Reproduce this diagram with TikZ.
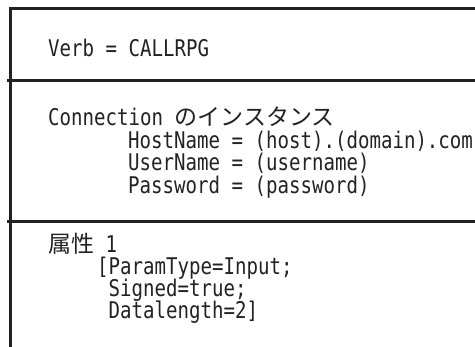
\documentclass[tikz,border=0pt]{standalone}
\usepackage{fontspec}
\newfontfamily\monof[FakeStretch=0.83]{DejaVu Sans Mono}
\newfontfamily\cjkf{Noto Sans CJK JP}
\definecolor{ink}{HTML}{222222}
\begin{document}
\begin{tikzpicture}[x=1pt,y=-1pt,
  frame/.style={draw=ink,line width=3pt},
  txt/.style={anchor=base west,inner sep=0pt,text=ink,font=\monof\fontsize{23}{23}\selectfont}]
\useasboundingbox (0,0) rectangle (475,347);
\clip (0,0) rectangle (475,347);
\fill[white] (0,0) rectangle (475,347);
\coordinate (bl) at (10,350);
\coordinate (tl) at (10,9);
\coordinate (tr) at (480,9);
\coordinate (s1l) at (7,81);
\coordinate (s1r) at (480,81);
\coordinate (s2l) at (7,222);
\coordinate (s2r) at (480,222);
\draw[frame] (bl) -- (tl) -- (tr);
\draw[frame] (s1l) -- (s1r);
\draw[frame] (s2l) -- (s2r);
\node[txt] (verb) at (48,57) {Verb = CALLRPG};
\node[txt] (conn) at (48,126) {Connection {\cjkf のインスタンス}};
\node[txt] (host) at (128,148.5) {HostName = (host).(domain).com};
\node[txt] (user) at (128,171) {UserName = (username)};
\node[txt] (pass) at (128,193.5) {Password = (password)};
\node[txt] (attr) at (48,253) {{\cjkf 属性} 1};
\node[txt] (ptype) at (97,275) {[ParamType=Input;};
\node[txt] (sgn) at (108.5,297) {Signed=true;};
\node[txt] (dlen) at (108.5,319) {Datalength=2]};
\end{tikzpicture}
\end{document}
